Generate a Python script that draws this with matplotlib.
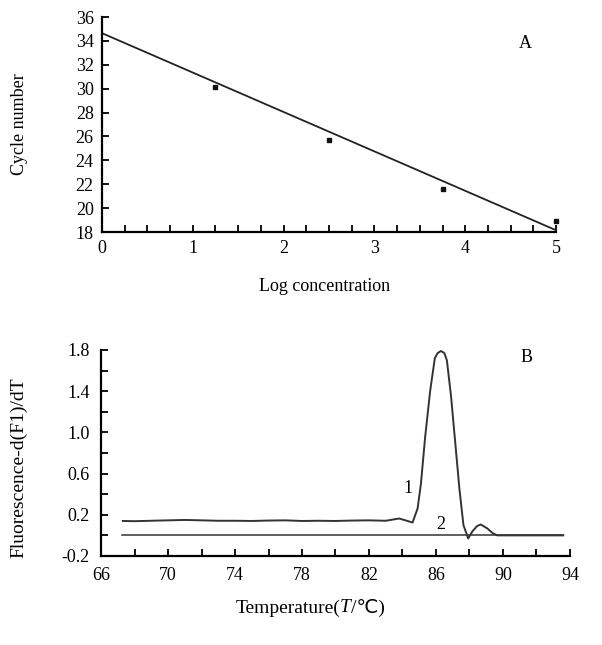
import numpy as np
import matplotlib
matplotlib.use('Agg')
import matplotlib.pyplot as plt
from matplotlib.offsetbox import TextArea, HPacker, AnnotationBbox

plt.rcParams['font.family'] = ['Liberation Serif', 'DejaVu Serif', 'DejaVu Sans']

# panel A - standard curve
log_conc = [1.25, 2.5, 3.75, 5.0]
cycle_num = [30.1, 25.7, 21.6, 18.9]
fit_x = [0, 5]
fit_y = [34.65, 18.15]

# panel B - melting curves
temp1 = [67.3, 68, 69, 70, 71, 72, 73, 74, 75, 76, 77, 78, 79, 80, 81, 82, 83,
         83.8, 84.2, 84.6, 84.9, 85.1, 85.35, 85.65, 85.93, 86.1, 86.3, 86.5,
         86.65, 86.9, 87.15, 87.4, 87.64, 87.92, 88.18, 88.45, 88.67, 89.07,
         89.4, 89.67, 91, 92, 93.6]
fluo1 = [0.14, 0.138, 0.142, 0.146, 0.15, 0.146, 0.142, 0.142, 0.14, 0.144,
         0.146, 0.14, 0.142, 0.14, 0.144, 0.146, 0.142, 0.164, 0.145, 0.125,
         0.26, 0.5, 0.95, 1.4, 1.72, 1.77, 1.79, 1.77, 1.7, 1.35, 0.9,
         0.45, 0.1, -0.03, 0.04, 0.09, 0.106, 0.067, 0.02, 0.0, 0.0, 0.0, 0.0]
temp2 = [67.25, 93.6]
fluo2 = [0.0, 0.0]

fs = 13

fig = plt.figure(figsize=(6.02, 6.45), dpi=100)

ax1 = fig.add_axes([0.1694, 0.6403, 0.7542, 0.3333])
ax1.plot(fit_x, fit_y, color='#222222', lw=1.3, clip_on=False)
ax1.plot(log_conc, cycle_num, 's', color='#111111', ms=2.5, clip_on=False)
ax1.set_xlim(0, 5)
ax1.set_ylim(18, 36)
ax1.set_xticks(range(0, 6))
ax1.set_xticks(np.arange(0, 5.01, 0.25), minor=True)
ax1.set_yticks(range(18, 37, 2))
ax1.tick_params(direction='in', length=5, width=1.3, labelsize=fs, pad=6)
ax1.tick_params(which='minor', direction='in', length=5, width=1.3)
ax1.spines['top'].set_visible(False)
ax1.spines['right'].set_visible(False)
for s in ['left', 'bottom']:
    ax1.spines[s].set_linewidth(1.6)
ax1.set_xlabel('Log concentration', fontsize=fs)
ax1.xaxis.set_label_coords(0.49, -0.215)
ax1.set_ylabel('Cycle number', fontsize=fs)
ax1.yaxis.set_label_coords(-0.163, 0.5)
ax1.text(4.66, 33.8, 'A', fontsize=fs, ha='center', va='center')

ax2 = fig.add_axes([0.1678, 0.138, 0.779, 0.3194])
ax2.plot(temp1, fluo1, color='#333333', lw=1.4)
ax2.plot(temp2, fluo2, color='#333333', lw=1.1)
ax2.set_xlim(66, 94)
ax2.set_ylim(-0.2, 1.8)
ax2.set_xticks(range(66, 95, 4))
ax2.set_xticks(range(66, 95, 2), minor=True)
ax2.set_yticks([-0.2, 0.2, 0.6, 1.0, 1.4, 1.8])
ax2.set_yticks(np.arange(-0.2, 1.81, 0.2), minor=True)
ax2.set_yticklabels(['-0.2', '0.2', '0.6', '1.0', '1.4', '1.8'])
ax2.tick_params(direction='in', length=5, width=1.3, labelsize=fs, pad=8)
ax2.tick_params(which='minor', direction='in', length=5, width=1.3)
ax2.spines['top'].set_visible(False)
ax2.spines['right'].set_visible(False)
for s in ['left', 'bottom']:
    ax2.spines[s].set_linewidth(1.6)
ax2.set_ylabel('Fluorescence-d(F1)/dT', fontsize=14)
ax2.yaxis.set_label_coords(-0.156, 0.43)

# x label with italic T and the degree sign
tp = dict(fontsize=14, family=['Liberation Serif', 'DejaVu Sans'])
parts = HPacker(children=[TextArea('Temperature(', textprops=tp),
                          TextArea('T', textprops=dict(tp, style='italic')),
                          TextArea('/\u2103)', textprops=tp)],
                align='baseline', pad=0, sep=0)
ab = AnnotationBbox(parts, (0.446, -0.25), xycoords='axes fraction',
                    frameon=False, box_alignment=(0.5, 0.5), annotation_clip=False)
ax2.add_artist(ab)

ax2.text(84.3, 0.46, '1', fontsize=fs, ha='center', va='center')
ax2.text(86.3, 0.105, '2', fontsize=fs, ha='center', va='center')
ax2.text(91.4, 1.73, 'B', fontsize=fs, ha='center', va='center')

fig.savefig('out.png', dpi=100)
